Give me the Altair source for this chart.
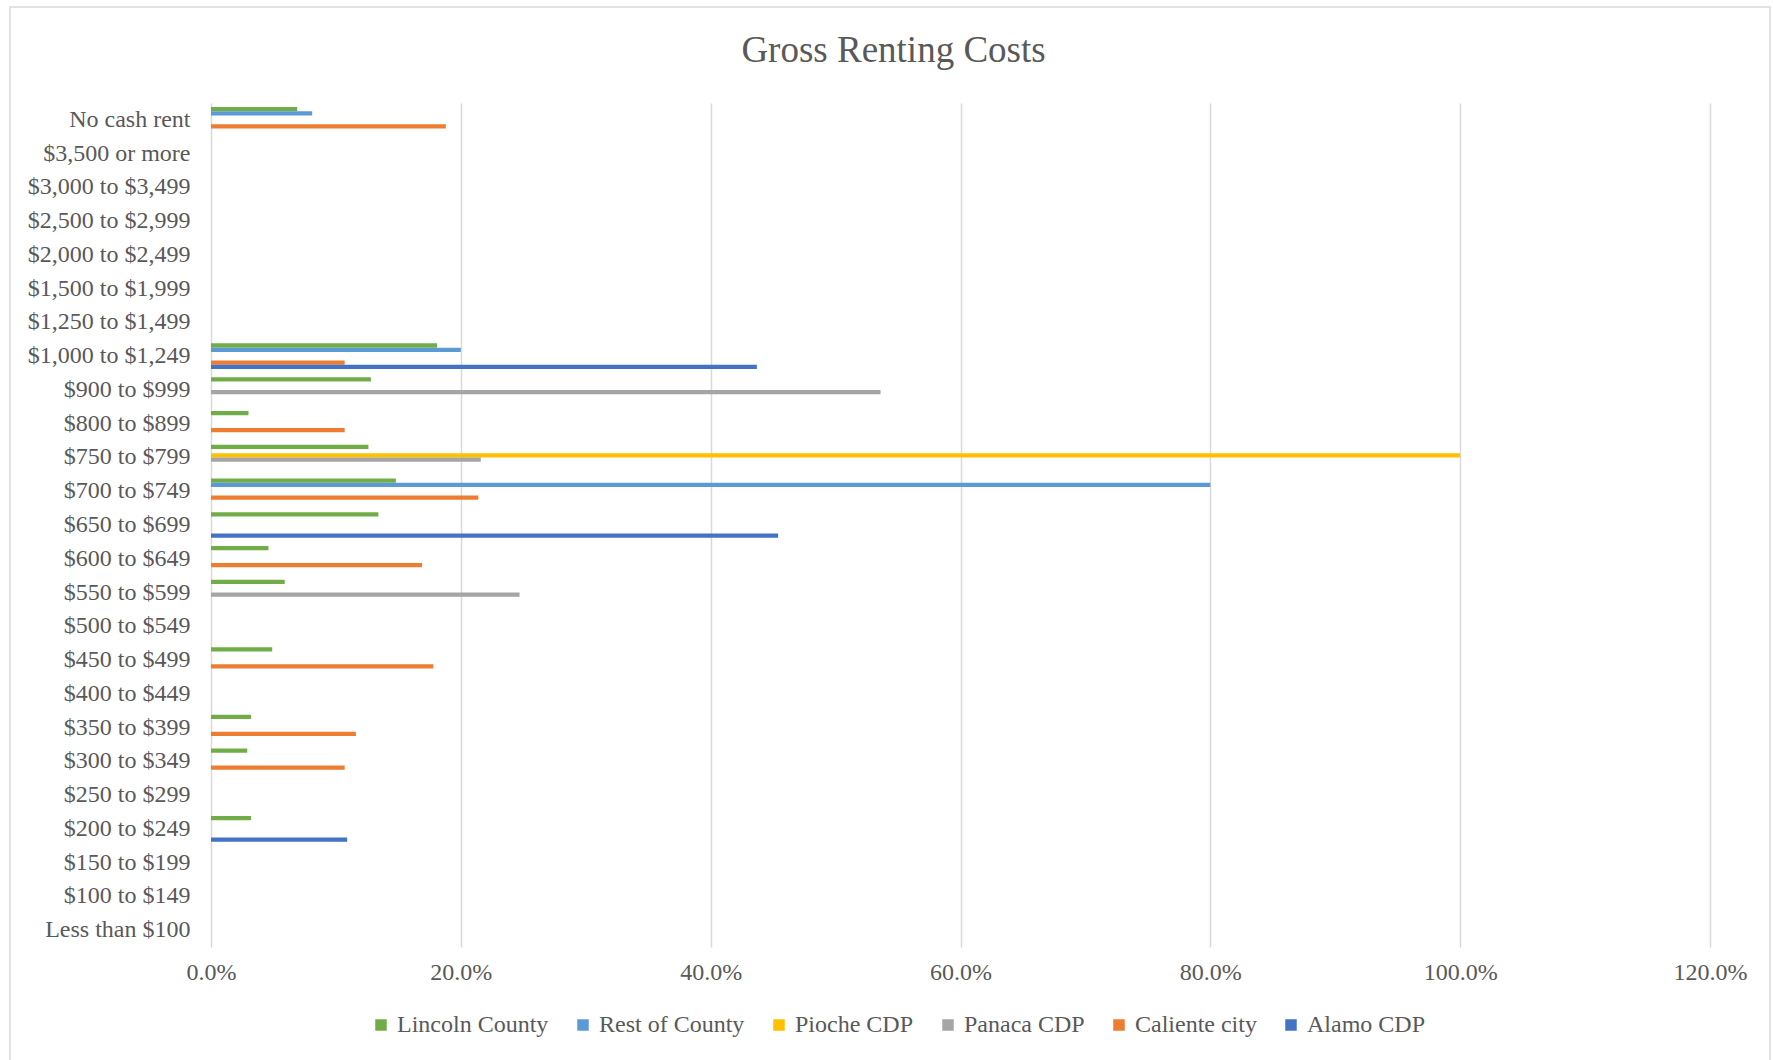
import altair as alt
import pandas as pd

categories = [
    "No cash rent", "$3,500 or more", "$3,000 to $3,499", "$2,500 to $2,999",
    "$2,000 to $2,499", "$1,500 to $1,999", "$1,250 to $1,499", "$1,000 to $1,249",
    "$900 to $999", "$800 to $899", "$750 to $799", "$700 to $749",
    "$650 to $699", "$600 to $649", "$550 to $599", "$500 to $549",
    "$450 to $499", "$400 to $449", "$350 to $399", "$300 to $349",
    "$250 to $299", "$200 to $249", "$150 to $199", "$100 to $149",
    "Less than $100",
]

series_names = ["Lincoln County", "Rest of County", "Pioche CDP", "Panaca CDP", "Caliente city", "Alamo CDP"]
series_colors = ["#70AD47", "#5B9BD5", "#FFC000", "#A5A5A5", "#ED7D31", "#4472C4"]

# values in percent, same order as categories (top to bottom)
lincoln_county = [6.9, 0, 0, 0, 0, 0, 0, 18.1, 12.8, 3.0, 12.6, 14.8, 13.4, 4.6, 5.9, 0, 4.9, 0, 3.2, 2.9, 0, 3.2, 0, 0, 0]
rest_of_county = [8.1, 0, 0, 0, 0, 0, 0, 20.0, 0, 0, 0, 80.0, 0, 0, 0, 0, 0, 0, 0, 0, 0, 0, 0, 0, 0]
pioche_cdp     = [0, 0, 0, 0, 0, 0, 0, 0, 0, 0, 100.0, 0, 0, 0, 0, 0, 0, 0, 0, 0, 0, 0, 0, 0, 0]
panaca_cdp     = [0, 0, 0, 0, 0, 0, 0, 0, 53.6, 0, 21.6, 0, 0, 0, 24.7, 0, 0, 0, 0, 0, 0, 0, 0, 0, 0]
caliente_city  = [18.8, 0, 0, 0, 0, 0, 0, 10.7, 0, 10.7, 0, 21.4, 0, 16.9, 0, 0, 17.8, 0, 11.6, 10.7, 0, 0, 0, 0, 0]
alamo_cdp      = [0, 0, 0, 0, 0, 0, 0, 43.7, 0, 0, 0, 0, 45.4, 0, 0, 0, 0, 0, 0, 0, 0, 10.9, 0, 0, 0]

x_ticks = [0, 0.2, 0.4, 0.6, 0.8, 1.0, 1.2]

all_series = [lincoln_county, rest_of_county, pioche_cdp, panaca_cdp, caliente_city, alamo_cdp]
rows = []
for name, vals in zip(series_names, all_series):
    for cat, v in zip(categories, vals):
        rows.append({"category": cat, "series": name, "value": v / 100.0})
df = pd.DataFrame(rows)

FONT = "Liberation Serif"
TXT = "#595959"

bars = alt.Chart(df).mark_bar().encode(
    x=alt.X(
        "value:Q",
        scale=alt.Scale(domain=[0, 1.2], nice=False, zero=True),
        axis=alt.Axis(
            title=None, format=".1%", values=x_ticks, grid=True, gridColor="#d9d9d9",
            gridWidth=1.5, domain=False, ticks=False, tickSize=0, labelPadding=13,
            labelFlush=False, labelFont=FONT, labelFontSize=24, labelColor=TXT,
        ),
    ),
    y=alt.Y(
        "category:N", sort=categories,
        scale=alt.Scale(paddingInner=0.24, paddingOuter=0.12),
        axis=alt.Axis(
            title=None, domain=False, ticks=False, tickSize=0, grid=False, labelPadding=21,
            labelFont=FONT, labelFontSize=24, labelColor=TXT, labelLimit=400,
        ),
    ),
    yOffset=alt.YOffset("series:N", sort=series_names,
                        scale=alt.Scale(paddingInner=0, paddingOuter=0)),
    color=alt.Color(
        "series:N", sort=series_names,
        scale=alt.Scale(domain=series_names, range=series_colors),
        legend=alt.Legend(
            title=None, orient="none", direction="horizontal", legendX=158, legendY=910,
            symbolType="square", symbolSize=132, symbolStrokeWidth=0, labelOffset=4,
            columnPadding=22, labelFont=FONT, labelFontSize=24, labelColor=TXT, padding=0,
        ),
    ),
)

frame = alt.Chart(pd.DataFrame({"a": [0]})).mark_rect(
    filled=False, stroke="#d9d9d9", strokeWidth=1.5
).encode(
    x=alt.value(-201), x2=alt.value(1559), y=alt.value(-96), y2=alt.value(965)
)

chart = alt.layer(frame, bars).properties(
    width=1499,
    height=844,
    padding={"left": 211, "top": 103, "right": 63, "bottom": 113},
    autosize=alt.AutoSizeParams(type="none"),
    view=alt.ViewBackground(strokeWidth=0, strokeOpacity=0),
    title=alt.TitleParams(
        "Gross Renting Costs", font=FONT, fontSize=37, fontWeight="normal", color=TXT,
        anchor="middle", frame="group", dx=-67, offset=0, dy=64,
    ),
).configure_view(stroke="transparent", strokeWidth=0, strokeOpacity=0).configure(background="white")

chart.save("out.html", embed_options={"renderer": "svg", "actions": False})
